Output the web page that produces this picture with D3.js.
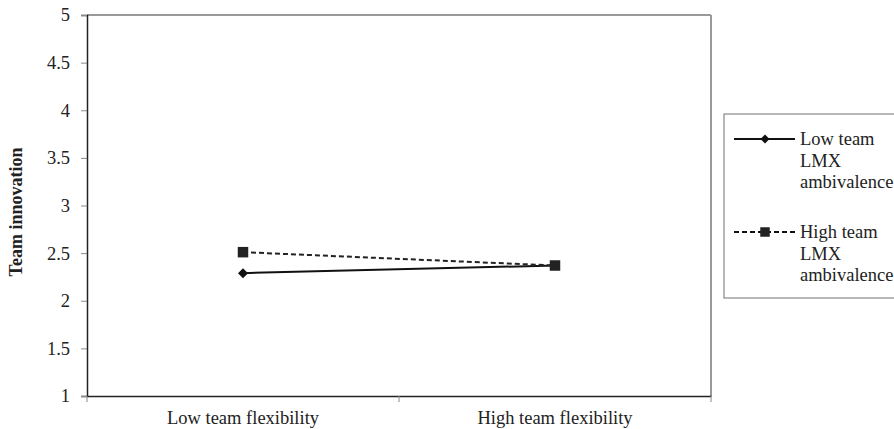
<!DOCTYPE html>
<html><head><meta charset="utf-8">
<script src="https://cdn.jsdelivr.net/npm/d3@7"></script>
<style>body{margin:0;background:#fff}svg{display:block}</style>
</head><body>
<script>
const categories = ["Low team flexibility", "High team flexibility"];
const seriesNames = ["Low team LMX ambivalence", "High team LMX ambivalence"];
const lowLMX = [2.29, 2.37];
const highLMX = [2.51, 2.37];
const yTicks = [1, 1.5, 2, 2.5, 3, 3.5, 4, 4.5, 5];
const legendLines = [["Low team", "LMX", "ambivalence"], ["High team", "LMX", "ambivalence"]];

const W = 894, H = 429;
const m = {l: 87, r: 711, t: 15, b: 396};
const svg = d3.select("body").append("svg").attr("width", W).attr("height", H);
const font = "'Liberation Serif','Times New Roman',serif";
const fs = 18.5;

const x = d3.scaleBand().domain(categories).range([m.l, m.r]).padding(0);
const y = d3.scaleLinear().domain([1, 5]).range([m.b, m.t]);

// plot border (top & right gray)
svg.append("line").attr("x1", m.l).attr("x2", m.r).attr("y1", m.t).attr("y2", m.t).attr("stroke", "#999").attr("stroke-width", 2);
svg.append("line").attr("x1", m.r).attr("x2", m.r).attr("y1", m.t).attr("y2", m.b).attr("stroke", "#999").attr("stroke-width", 2);

// y axis
const ya = svg.append("g").attr("transform", `translate(${m.l},0)`)
  .call(d3.axisLeft(y).tickValues(yTicks).tickSize(6).tickFormat(d => String(d)));
ya.select(".domain").attr("stroke", "#222").attr("stroke-width", 1.5);
ya.selectAll(".tick line").attr("stroke", "#888");
ya.selectAll(".tick text").attr("font-family", font).attr("font-size", fs).attr("fill", "#222").attr("x", -17);

// x axis
const xa = svg.append("g").attr("transform", `translate(0,${m.b})`)
  .call(d3.axisBottom(x).tickSize(0).tickSizeOuter(0));
xa.select(".domain").attr("stroke", "#222").attr("stroke-width", 1.5);
xa.selectAll(".tick text").attr("font-family", font).attr("font-size", fs).attr("fill", "#222").attr("dy", 0).attr("y", 28);
// category boundary ticks
const bounds = [m.l, x(categories[1]), m.r];
svg.selectAll("line.bt").data(bounds).enter().append("line")
  .attr("x1", d => d).attr("x2", d => d).attr("y1", m.b).attr("y2", m.b + 6).attr("stroke", "#888");

// y title
svg.append("text").attr("transform", `translate(22,212) rotate(-90)`)
  .attr("text-anchor", "middle").attr("font-family", font).attr("font-size", 18).attr("font-weight", "bold")
  .attr("fill", "#222").text("Team innovation");

const cx = c => x(c) + x.bandwidth() / 2;
const line = d3.line().x((d, i) => cx(categories[i])).y(d => y(d));

svg.append("path").datum(lowLMX).attr("d", line).attr("fill", "none").attr("stroke", "#111").attr("stroke-width", 2);
svg.append("path").datum(highLMX).attr("d", line).attr("fill", "none").attr("stroke", "#222").attr("stroke-width", 2).attr("stroke-dasharray", "5,3");

svg.selectAll("path.lo").data(lowLMX).enter().append("path")
  .attr("d", d3.symbol().type(d3.symbolSquare).size(50)())
  .attr("transform", (d, i) => `translate(${cx(categories[i])},${y(d)}) rotate(45)`)
  .attr("fill", "#111");
svg.selectAll("path.hi").data(highLMX).enter().append("path")
  .attr("transform", (d, i) => `translate(${cx(categories[i])},${y(d)})`)
  .attr("d", d3.symbol().type(d3.symbolSquare).size(110)()).attr("fill", "#222");

// legend
const lg = svg.append("g");
lg.append("rect").attr("x", 724).attr("y", 114).attr("width", 260).attr("height", 184)
  .attr("fill", "#fff").attr("stroke", "#888").attr("stroke-width", 1.2);
const entryY = [139, 232];
legendLines.forEach((lines, k) => {
  const yy = entryY[k];
  lg.append("line").attr("x1", 734).attr("x2", 795).attr("y1", yy).attr("y2", yy)
    .attr("stroke", "#111").attr("stroke-width", 2).attr("stroke-dasharray", k ? "5,3" : null);
  if (k === 0) lg.append("path").attr("transform", `translate(765,${yy}) rotate(45)`).attr("d", d3.symbol().type(d3.symbolSquare).size(40)()).attr("fill", "#111");
  else lg.append("path").attr("transform", `translate(765,${yy})`).attr("d", d3.symbol().type(d3.symbolSquare).size(90)()).attr("fill", "#222");
  lines.forEach((t, j) => {
    lg.append("text").attr("x", 800).attr("y", yy + 6 + j * 21.5).attr("font-family", font).attr("font-size", fs)
      .attr("fill", "#222").text(t);
  });
});
</script>
</body></html>
